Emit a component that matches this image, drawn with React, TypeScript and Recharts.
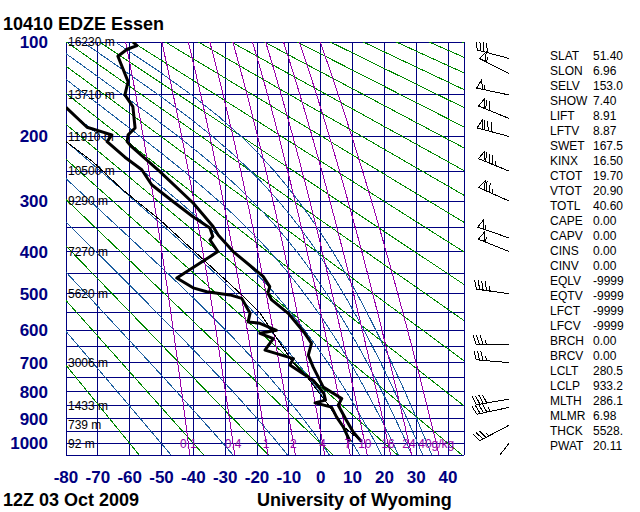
import React from "react";
import {
  LineChart,
  Line,
  XAxis,
  YAxis,
  CartesianGrid,
  ReferenceLine,
  ReferenceDot,
  ScatterChart,
  Scatter,
} from "recharts";

// Stuve diagram: y is linear in p^kappa
const KAPPA = 0.2857;
const sOf = (p: number) => Math.pow(p, KAPPA);

// temperature profile (hPa, degC)
const tempPressure = [993, 953, 907, 849, 824, 783, 714, 676, 639, 609, 552, 516, 498, 482, 457, 400, 365, 348, 304, 251, 214, 207, 198, 189, 163, 150, 136, 112, 106, 103, 100];
const tempValues = [12.8, 10.2, 8.1, 5.5, 6.6, 0.8, -2.4, -3.9, -2.9, -5.0, -10.2, -15.4, -16.6, -16.0, -18.1, -27.5, -32.2, -33.8, -40.0, -50.5, -59.4, -60.8, -60.5, -58.3, -59.0, -61.5, -60.5, -63.7, -60.8, -57.7, -59.0];

// dew point profile (hPa, degC)
const dewPressure = [993, 933, 894, 856, 840, 830, 806, 759, 708, 687, 660, 625, 609, 600, 580, 576, 552, 512, 503, 495, 485, 461, 400, 375, 368, 351, 329, 301, 283, 272, 248, 229, 207, 198, 188, 164];
const dewValues = [9.2, 7.1, 5.0, 3.4, -1.8, 1.5, 1.0, -2.4, -9.7, -8.6, -17.5, -14.9, -19.1, -13.9, -19.1, -22.8, -22.2, -24.8, -28.5, -35.8, -40.1, -45.2, -32.3, -34.8, -33.9, -34.8, -40.1, -46.4, -50.5, -53.1, -56.2, -61.5, -67.1, -65.6, -73.4, -80];

// lifted parcel (thin line)
const parcelPressure = [993, 933, 850, 745, 699, 651, 551, 503, 411, 335, 281, 236, 207];
const parcelValues = [12.8, 7.3, 2.5, -4.5, -8.7, -11.9, -19.1, -24.8, -37.9, -50.5, -62.1, -71.5, -80];

// winds: pressure, direction (deg), speed (kt)
const windPressure = [100, 114, 128, 150, 177, 200, 250, 300, 371, 400, 500, 642, 700, 826, 857, 926, 1000];
const windDir = [285, 285, 297, 282, 292, 285, 292, 294, 289, 292, 278, 270, 275, 260, 258, 242, 218];
const windSpeed = [45, 40, 55, 55, 70, 80, 85, 75, 55, 55, 45, 35, 35, 40, 45, 35, 10];

// axes and background lines
const tempTicks = [-80, -70, -60, -50, -40, -30, -20, -10, 0, 10, 20, 30, 40];
const gridTemps = [-80, -70, -60, -50, -40, -30, -20, -10, 0, 10, 20, 30, 40, 45];
const pressureTicks = [100, 200, 300, 400, 500, 600, 700, 800, 900, 1000];
const gridPressures = [100, 150, 200, 250, 300, 350, 400, 450, 500, 550, 600, 650, 700, 750, 800, 850, 900, 950, 1000, 1050];
const heightPressures = [100, 150, 200, 250, 300, 400, 500, 700, 850, 925, 1000];
const heightLabels = ["16230 m", "13710 m", "11910 m", "10500 m", "9290 m", "7270 m", "5620 m", "3006 m", "1433 m", "739 m", "92 m"];
const dryThetas = [-60, -40, -20, 0, 20, 40, 60, 80, 100, 120, 140, 160, 180, 200, 220, 240, 260, 280, 300, 320, 340];
const moistThetaE = [-50, -30, -10, 10, 30, 50, 70, 90, 110, 130];
const mixingRatios = [0.1, 0.4, 1, 2, 4, 7, 10, 16, 24, 40];
const mixingLabels = ["0.1", "0.4", "1", "2", "4", "7", "10", "16", "24", "40g/kg"];

// sounding indices
const statNames = ["SLAT", "SLON", "SELV", "SHOW", "LIFT", "LFTV", "SWET", "KINX", "CTOT", "VTOT", "TOTL", "CAPE", "CAPV", "CINS", "CINV", "EQLV", "EQTV", "LFCT", "LFCV", "BRCH", "BRCV", "LCLT", "LCLP", "MLTH", "MLMR", "THCK", "PWAT"];
const statValues = ["51.40", "6.96", "153.0", "7.40", "8.91", "8.87", "167.5", "16.50", "19.70", "20.90", "40.60", "0.00", "0.00", "0.00", "0.00", "-9999", "-9999", "-9999", "-9999", "0.00", "0.00", "280.5", "933.2", "286.1", "6.98", "5528.", "20.11"];

const NAVY = "#000080";
const GREEN = "#008800";
const BLUE = "#1e5fa0";
const PURPLE = "#9900aa";
const FONT = '"Liberation Sans", Arial, Helvetica, sans-serif';

const curveLevels: number[] = [];
for (let p = 1050; p >= 100; p -= 25) curveLevels.push(p);

const satVap = (tc: number) => 6.112 * Math.exp((17.67 * tc) / (tc + 243.5));

function thetaE(tk: number, p: number) {
  const es = satVap(tk - 273.15);
  if (es >= p * 0.6) return 1e9;
  const r = (0.622 * es) / (p - es);
  return tk * Math.pow(1000 / p, KAPPA) * Math.exp((2.5e6 * r) / (1004 * tk));
}

function moistT(thK: number, p: number) {
  let lo = 150;
  let hi = 340;
  for (let i = 0; i < 50; i++) {
    const mid = (lo + hi) / 2;
    if (thetaE(mid, p) > thK) hi = mid;
    else lo = mid;
  }
  return (lo + hi) / 2 - 273.15;
}

function mixT(w: number, p: number) {
  const e = (w * p) / (622 + w);
  const l = Math.log(e / 6.112);
  return (243.5 * l) / (17.67 - l);
}

const toPoints = (ps: number[], ts: number[]) => ps.map((p, i) => ({ t: ts[i], s: sOf(p) }));

const dryLines = dryThetas.map((th) =>
  [1050, 100].map((p) => ({ t: (th + 273.15) * Math.pow(p / 1000, KAPPA) - 273.15, s: sOf(p) }))
);
const moistLines = moistThetaE.map((th) => curveLevels.map((p) => ({ t: moistT(th + 273.15, p), s: sOf(p) })));
const mixLines = mixingRatios.map((w) => curveLevels.map((p) => ({ t: mixT(w, p), s: sOf(p) })));

const windData = windPressure.map((p, i) => ({ x: 1, s: sOf(p), dir: windDir[i], spd: windSpeed[i] }));

function Barb(props: any) {
  const { cx, cy, payload } = props;
  if (cx == null || cy == null) return null;
  const d = (payload.dir * Math.PI) / 180;
  const ux = Math.sin(d);
  const uy = -Math.cos(d);
  const px = -uy;
  const py = ux;
  const L = 33;
  const tx = cx + ux * L;
  const ty = cy + uy * L;
  let spd = Math.round(payload.spd / 5) * 5;
  const parts: React.ReactNode[] = [];
  let pos = 0;
  let k = 0;
  const flen = 9;
  while (spd >= 50) {
    const ax = tx - ux * pos, ay = ty - uy * pos;
    const bx = tx - ux * (pos + 6), by = ty - uy * (pos + 6);
    const mx = (ax + bx) / 2 + px * flen, my = (ay + by) / 2 + py * flen;
    parts.push(<polygon key={k++} points={`${ax},${ay} ${mx},${my} ${bx},${by}`} fill="none" stroke="#000" strokeWidth={1} />);
    pos += 8;
    spd -= 50;
  }
  while (spd >= 10) {
    const ax = tx - ux * pos, ay = ty - uy * pos;
    parts.push(<line key={k++} x1={ax} y1={ay} x2={ax + px * flen + ux * 3} y2={ay + py * flen + uy * 3} stroke="#000" strokeWidth={1} />);
    pos += 3.5;
    spd -= 10;
  }
  if (spd >= 5) {
    if (pos === 0) pos = 3.5;
    const ax = tx - ux * pos, ay = ty - uy * pos;
    parts.push(<line key={k++} x1={ax} y1={ay} x2={ax + px * 4.5 + ux * 1.5} y2={ay + py * 4.5 + uy * 1.5} stroke="#000" strokeWidth={1} />);
  }
  return (
    <g shapeRendering="crispEdges">
      <line x1={cx} y1={cy} x2={tx} y2={ty} stroke="#000" strokeWidth={1} />
      {parts}
    </g>
  );
}

export default function App() {
  const sDomain: [number, number] = [sOf(100), sOf(1050)];
  return (
    <div style={{ position: "fixed", left: 0, top: 0, width: 640, height: 512, background: "#fff", fontFamily: FONT, overflow: "hidden" }}>
      <div style={{ position: "absolute", left: 3, top: 15, fontSize: 18, fontWeight: "bold", lineHeight: "18px", color: "#000" }}>
        10410 EDZE Essen
      </div>
      <div style={{ position: "absolute", left: 3, top: 491, fontSize: 18, fontWeight: "bold", lineHeight: "18px", color: "#000" }}>
        12Z 03 Oct 2009
      </div>
      <div style={{ position: "absolute", left: 257, top: 491, fontSize: 18, fontWeight: "bold", lineHeight: "18px", color: "#000" }}>
        University of Wyoming
      </div>

      <div style={{ position: "absolute", left: 0, top: 0 }}>
        <LineChart width={640} height={512} margin={{ top: 42, right: 176, bottom: 27, left: 0 }} style={{ fontFamily: FONT }}>
          <CartesianGrid
            horizontalValues={gridPressures.map(sOf)}
            verticalValues={gridTemps}
            stroke={NAVY}
            strokeWidth={1}
            strokeOpacity={1}
            shapeRendering="crispEdges"
          />
          <XAxis
            type="number"
            dataKey="t"
            domain={[-80, 45]}
            ticks={tempTicks}
            interval={0}
            allowDataOverflow
            height={30}
            axisLine={false}
            tickLine={false}
            tickSize={6}
            tickMargin={10}
            tick={{ fill: NAVY, fontSize: 17, fontWeight: "bold" }}
          />
          <YAxis
            type="number"
            dataKey="s"
            domain={sDomain}
            reversed
            allowDataOverflow
            ticks={pressureTicks.map(sOf)}
            interval={0}
            tickFormatter={(v: number) => String(Math.round(Math.pow(v, 1 / KAPPA)))}
            width={66}
            axisLine={false}
            tickLine={false}
            tickSize={8}
            tickMargin={10}
            tick={{ fill: NAVY, fontSize: 17, fontWeight: "bold" }}
          />
          {dryLines.map((d, i) => (
            <Line key={"dry" + i} data={d} dataKey="s" stroke={GREEN} strokeWidth={1} shapeRendering="crispEdges" dot={false} activeDot={false} isAnimationActive={false} />
          ))}
          {moistLines.map((d, i) => (
            <Line key={"moist" + i} data={d} dataKey="s" stroke={BLUE} strokeWidth={1} shapeRendering="crispEdges" dot={false} activeDot={false} isAnimationActive={false} />
          ))}
          {mixLines.map((d, i) => (
            <Line key={"mix" + i} data={d} dataKey="s" stroke={PURPLE} strokeWidth={1} shapeRendering="crispEdges" dot={false} activeDot={false} isAnimationActive={false} />
          ))}
          {heightPressures.map((p, i) => (
            <ReferenceLine
              key={"h" + i}
              y={sOf(p)}
              stroke="none"
              label={{ value: heightLabels[i], position: "insideLeft", offset: 2, fill: "#000", fontSize: 12 }}
            />
          ))}
          {mixingRatios.map((w, i) => (
            <ReferenceDot
              key={"ml" + i}
              x={mixT(w, 1000)}
              y={sOf(1000)}
              r={0}
              fill="none"
              stroke="none"
              label={{ value: mixingLabels[i], position: "center", fill: PURPLE, fontSize: 12 }}
            />
          ))}
          <Line data={toPoints(parcelPressure, parcelValues)} dataKey="s" stroke="#000" strokeWidth={1} shapeRendering="crispEdges" dot={false} activeDot={false} isAnimationActive={false} />
          <Line data={toPoints(dewPressure, dewValues)} dataKey="s" stroke="#000" strokeWidth={3} strokeLinejoin="round" dot={false} activeDot={false} isAnimationActive={false} />
          <Line data={toPoints(tempPressure, tempValues)} dataKey="s" stroke="#000" strokeWidth={3} strokeLinejoin="round" dot={false} activeDot={false} isAnimationActive={false} />
        </LineChart>
      </div>

      <div style={{ position: "absolute", left: 0, top: 0 }}>
        <ScatterChart width={640} height={512} margin={{ top: 42, right: 131, bottom: 57, left: 466 }}>
          <XAxis type="number" dataKey="x" domain={[0, 1]} hide />
          <YAxis type="number" dataKey="s" domain={sDomain} reversed allowDataOverflow hide />
          <Scatter data={windData} shape={(p: any) => <Barb {...p} />} isAnimationActive={false} />
        </ScatterChart>
      </div>

      <div style={{ position: "absolute", left: 550, top: 49, fontSize: 12, lineHeight: "15px", color: "#000" }}>
        {statNames.map((n, i) => (
          <div key={n} style={{ display: "flex", height: 15 }}>
            <span style={{ width: 43 }}>{n}</span>
            <span>{statValues[i]}</span>
          </div>
        ))}
      </div>
    </div>
  );
}
